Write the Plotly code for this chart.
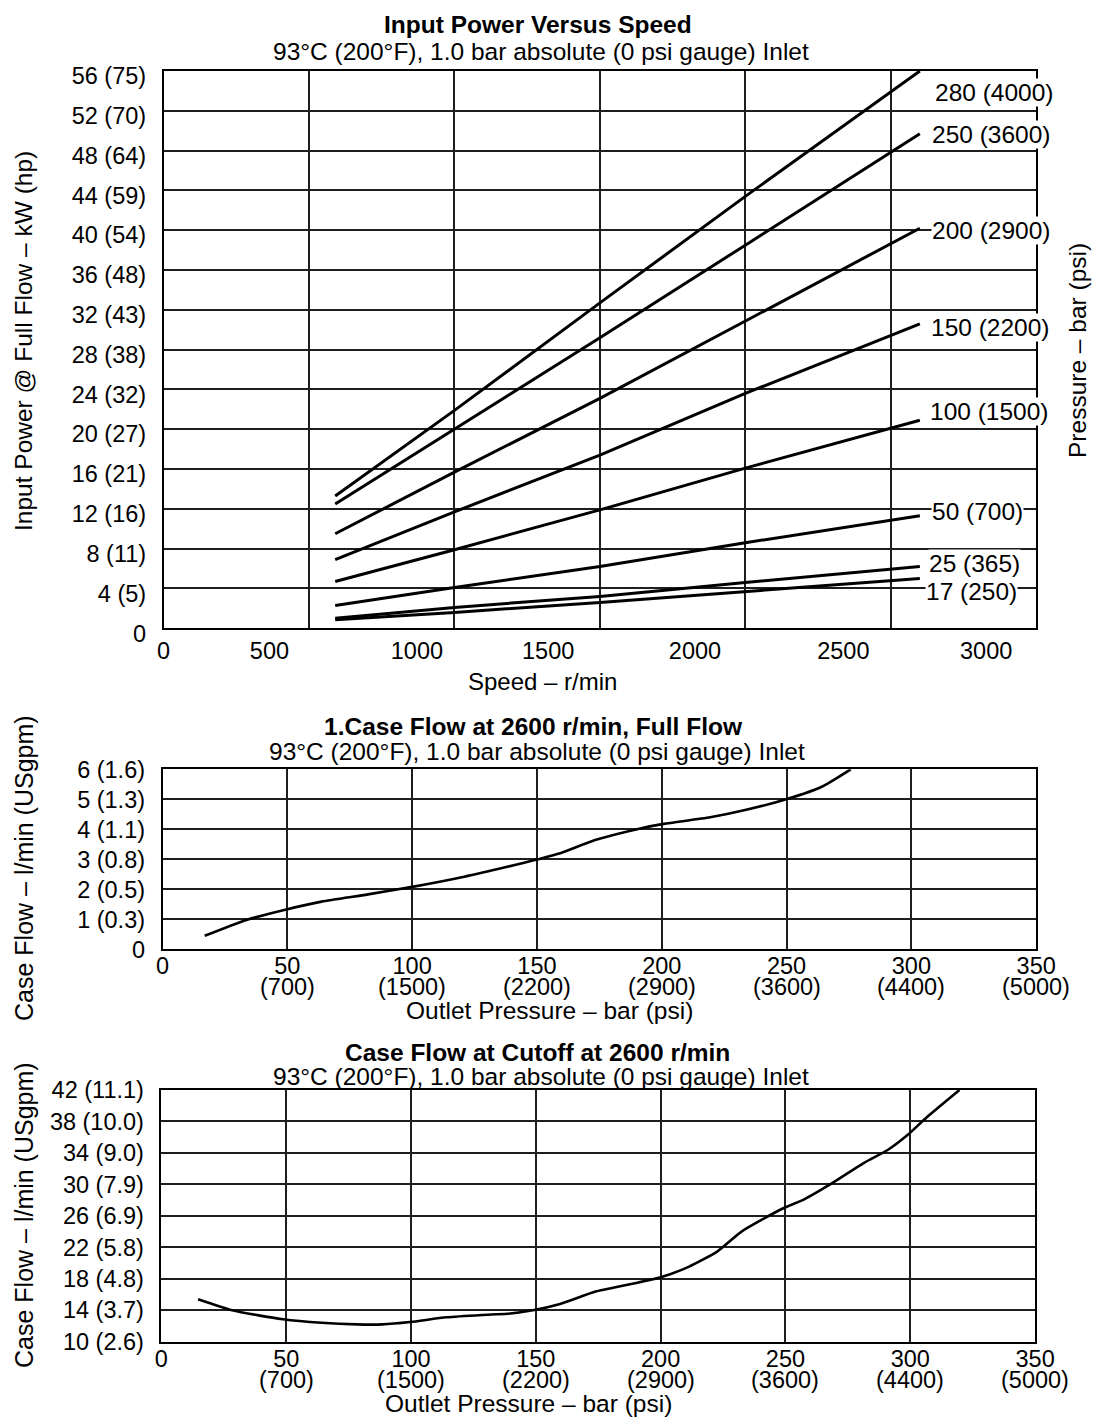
import plotly.graph_objects as go

# ---------------- DATA ----------------
# Top chart: Input power (kW) versus speed (r/min) for several outlet pressures
speed_rpm = [590, 1000, 1500, 2000, 2600]
power_280 = [13.3, 21.9, 32.7, 43.4, 56.0]
power_250 = [12.5, 20.0, 29.2, 38.5, 49.7]
power_200 = [9.5, 15.7, 23.1, 30.9, 40.2]
power_150 = [6.9, 11.7, 17.4, 23.6, 30.6]
power_100 = [4.7, 7.9, 11.9, 16.1, 20.9]
power_50 = [2.3, 4.1, 6.2, 8.6, 11.3]
power_25 = [1.0, 2.1, 3.2, 4.6, 6.2]
power_17 = [0.85, 1.6, 2.6, 3.7, 5.0]
pressure_labels = ["280 (4000)", "250 (3600)", "200 (2900)", "150 (2200)",
                   "100 (1500)", "50 (700)", "25 (365)", "17 (250)"]

speed_tick_text = ["0", "500", "1000", "1500", "2000", "2500", "3000"]
speed_grid = [500, 1000, 1500, 2000, 2500]
power_ticks = [0, 4, 8, 12, 16, 20, 24, 28, 32, 36, 40, 44, 48, 52, 56]
power_tick_text = ["0", "4 (5)", "8 (11)", "12 (16)", "16 (21)", "20 (27)", "24 (32)",
                   "28 (38)", "32 (43)", "36 (48)", "40 (54)", "44 (59)", "48 (64)",
                   "52 (70)", "56 (75)"]

# Middle chart: case flow at 2600 r/min, full flow
full_pressure_bar = [16.9, 33.6, 49.6, 63.7, 82.3, 100.6, 120.9, 138.1, 150.3, 159.3,
                     173.3, 191.4, 200.8, 219.4, 233.4, 250.2, 264.1, 275.7]
full_case_flow = [0.45, 0.98, 1.33, 1.59, 1.83, 2.09, 2.42, 2.75, 3.0, 3.2,
                  3.64, 4.03, 4.18, 4.4, 4.64, 5.01, 5.42, 6.0]
full_flow_ticks = [0, 1, 2, 3, 4, 5, 6]
full_flow_tick_text = ["0", "1 (0.3)", "2 (0.5)", "3 (0.8)", "4 (1.1)", "5 (1.3)", "6 (1.6)"]

# Bottom chart: case flow at cutoff at 2600 r/min
cutoff_pressure_bar = [14.7, 28.3, 48.7, 64.1, 78.4, 88.4, 99.6, 114.2, 128.5, 138.5,
                       148.8, 159.7, 173.7, 187.7, 199.7, 211.4, 222.6, 232.4, 248.7,
                       257.5, 268.7, 281.3, 291.1, 299.0, 306.5, 319.7]
cutoff_case_flow = [15.4, 14.0, 12.85, 12.4, 12.2, 12.2, 12.5, 13.1, 13.4, 13.55,
                    14.0, 14.8, 16.35, 17.3, 18.15, 19.55, 21.45, 24.0, 26.9,
                    28.1, 30.15, 32.7, 34.4, 36.3, 38.5, 42.0]
cutoff_flow_ticks = [10, 14, 18, 22, 26, 30, 34, 38, 42]
cutoff_flow_tick_text = ["10 (2.6)", "14 (3.7)", "18 (4.8)", "22 (5.8)", "26 (6.9)",
                         "30 (7.9)", "34 (9.0)", "38 (10.0)", "42 (11.1)"]

pressure_ticks = [0, 50, 100, 150, 200, 250, 300, 350]
pressure_tick_text = ["0", "50", "100", "150", "200", "250", "300", "350"]
psi_tick_vals = [50, 100, 150, 200, 250, 300, 350]
psi_tick_text = ["(700)", "(1500)", "(2200)", "(2900)", "(3600)", "(4400)", "(5000)"]

# ---------------- LAYOUT HELPERS ----------------
W, H = 1107, 1417
FONT = "Liberation Sans, Arial, Helvetica, sans-serif"
BLACK = "black"
GRID = "#1e1e1e"


def fx(px):
    return px / W


def fy(px):
    return 1 - px / H


# label placement (data coordinates of top chart) for the pressure labels
label_x = [2649, 2640, 2637, 2635, 2630, 2637, 2628, 2618]
label_y = [53.8, 49.6, 40.0, 30.2, 21.8, 11.7, 6.5, 3.7]
# top x-axis tick label positions as drawn in the original
speed_tick_pos = [0, 364, 871, 1322, 1827, 2337, 2828]

fig = go.Figure()

top_series = [power_280, power_250, power_200, power_150, power_100, power_50, power_25, power_17]
for name, vals in zip(pressure_labels, top_series):
    fig.add_trace(go.Scatter(x=speed_rpm, y=vals, mode="lines", name=name,
                             line=dict(color=BLACK, width=3), xaxis="x", yaxis="y",
                             showlegend=False, hoverinfo="skip", cliponaxis=False))

fig.add_trace(go.Scatter(x=full_pressure_bar, y=full_case_flow, mode="lines",
                         line=dict(color=BLACK, width=2.6, shape="spline", smoothing=0.6),
                         xaxis="x2", yaxis="y2", showlegend=False, hoverinfo="skip"))
fig.add_trace(go.Scatter(x=cutoff_pressure_bar, y=cutoff_case_flow, mode="lines",
                         line=dict(color=BLACK, width=2.6, shape="spline", smoothing=0.6),
                         xaxis="x3", yaxis="y3", showlegend=False, hoverinfo="skip"))

tick_font = dict(family=FONT, size=23.5, color=BLACK)
axis_common = dict(showline=True, mirror=True, linecolor=BLACK, linewidth=1.5,
                   zeroline=False, ticks="", tickfont=tick_font, fixedrange=True,
                   automargin=False)

layout = dict(
    width=W, height=H,
    margin=dict(l=0, r=0, t=0, b=0, pad=0),
    paper_bgcolor="white", plot_bgcolor="white",
    font=dict(family=FONT, color=BLACK),
    showlegend=False,
    # top chart
    xaxis=dict(domain=[fx(163.6), fx(1036.2)], range=[0, 3000], anchor="y",
               tickmode="array", tickvals=speed_tick_pos, ticktext=speed_tick_text,
               showgrid=False, ticklabelstandoff=1,
               minor=dict(tickmode="array", tickvals=speed_grid, showgrid=True,
                          gridcolor=GRID, gridwidth=1.5, ticks=""),
               **axis_common),
    yaxis=dict(domain=[fy(628.3), fy(71)], range=[0, 56], anchor="x",
               tickmode="array", tickvals=power_ticks, ticktext=power_tick_text,
               showgrid=True, gridcolor=GRID, gridwidth=1.5,
               ticklabelstandoff=11, ticklabelshift=5, **axis_common),
    # middle chart
    xaxis2=dict(domain=[fx(162.5), fx(1036.2)], range=[0, 350], anchor="y2",
                tickmode="array", tickvals=pressure_ticks, ticktext=pressure_tick_text,
                showgrid=True, gridcolor=GRID, gridwidth=1.5, ticklabelstandoff=-5,
                **axis_common),
    yaxis2=dict(domain=[fy(949.3), fy(769.3)], range=[0, 6], anchor="x2",
                tickmode="array", tickvals=full_flow_ticks, ticktext=full_flow_tick_text,
                showgrid=True, gridcolor=GRID, gridwidth=1.5, ticklabelstandoff=11,
                **axis_common),
    # bottom chart
    xaxis3=dict(domain=[fx(161.4), fx(1035.1)], range=[0, 350], anchor="y3",
                tickmode="array", tickvals=pressure_ticks, ticktext=pressure_tick_text,
                showgrid=True, gridcolor=GRID, gridwidth=1.5, ticklabelstandoff=-5,
                **axis_common),
    yaxis3=dict(domain=[fy(1341.7), fy(1090)], range=[10, 42], anchor="x3",
                tickmode="array", tickvals=cutoff_flow_ticks, ticktext=cutoff_flow_tick_text,
                showgrid=True, gridcolor=GRID, gridwidth=1.5, ticklabelstandoff=11,
                **axis_common),
)
fig.update_layout(**layout)

ann = []


def text_ann(text, x, y, size, bold=False, angle=0, xanchor="center"):
    ann.append(dict(text=f"<b>{text}</b>" if bold else text, x=fx(x), y=fy(y),
                    xref="paper", yref="paper", showarrow=False, textangle=angle,
                    xanchor=xanchor, yanchor="middle",
                    font=dict(family=FONT, size=size, color=BLACK)))


SUB = "93°C (200°F), 1.0 bar absolute (0 psi gauge) Inlet"
# Titles
text_ann("Input Power Versus Speed", 537.5, 24, 24.5, bold=True)
text_ann(SUB, 540.5, 51, 24.5)
text_ann("1.Case Flow at 2600 r/min, Full Flow", 533.5, 726, 24.5, bold=True)
text_ann(SUB, 537, 751.5, 24.5)
text_ann("Case Flow at Cutoff at 2600 r/min", 537, 1052, 24.5, bold=True)
text_ann(SUB, 540.5, 1076, 24.5)
# Axis titles
text_ann("Speed – r/min", 542, 681, 24)
text_ann("Input Power @ Full Flow – kW (hp)", 24, 341, 24.5, angle=-90)
text_ann("Pressure – bar (psi)", 1077, 351, 24.5, angle=-90)
text_ann("Outlet Pressure – bar (psi)", 549, 1010, 24.5)
text_ann("Case Flow – l/min (USgpm)", 24, 868, 25, angle=-90)
text_ann("Outlet Pressure – bar (psi)", 528, 1403, 24.5)
text_ann("Case Flow – l/min (USgpm)", 24, 1215, 25, angle=-90)

# Pressure labels at the end of the top-chart lines
for t, lx, ly in zip(pressure_labels, label_x, label_y):
    ann.append(dict(text=t, x=lx, y=ly, xref="x", yref="y", showarrow=False,
                    xanchor="left", yanchor="middle", bgcolor="white", borderpad=0,
                    font=dict(family=FONT, size=24.5, color=BLACK)))

# psi second line of the pressure tick labels
for v, t in zip(psi_tick_vals, psi_tick_text):
    ann.append(dict(text=t, x=v, y=fy(987), xref="x2", yref="paper", showarrow=False,
                    xanchor="center", yanchor="middle",
                    font=dict(family=FONT, size=23.5, color=BLACK)))
    ann.append(dict(text=t, x=v, y=fy(1379.5), xref="x3", yref="paper", showarrow=False,
                    xanchor="center", yanchor="middle",
                    font=dict(family=FONT, size=23.5, color=BLACK)))

fig.update_layout(annotations=ann)

fig.write_html("out.html", config={"displayModeBar": False},
               post_script="document.body.style.margin='0';")
